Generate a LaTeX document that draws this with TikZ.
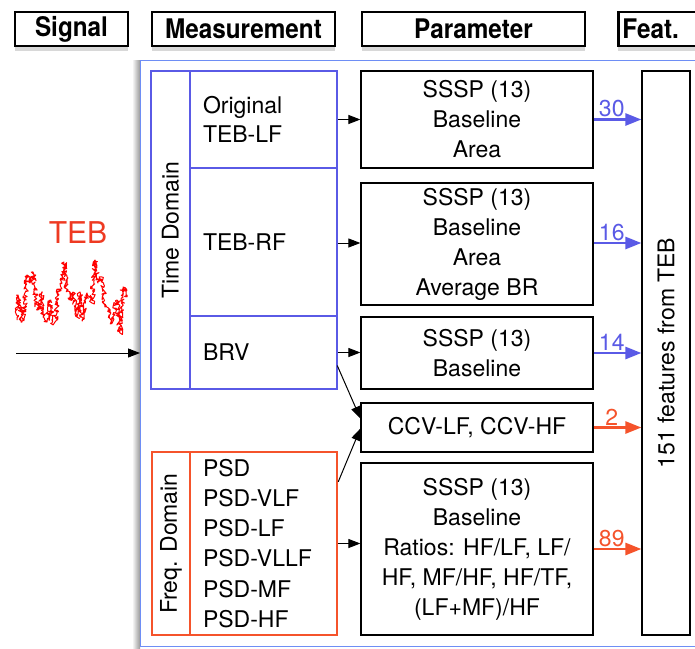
\documentclass[tikz,border=0pt]{standalone}
\usepackage{fontspec}
\setmainfont{TeX Gyre Heros}
\newfontfamily\headfont[FakeStretch=0.9]{TeX Gyre Heros}
\usetikzlibrary{arrows.meta,shadows,decorations.pathmorphing,calc}
\definecolor{tdblue}{HTML}{5A5AE6}
\definecolor{outerblue}{HTML}{6E8EF5}
\definecolor{fqorange}{HTML}{F5532B}
\definecolor{tebred}{HTML}{EE3A22}
\begin{document}
\begin{tikzpicture}[x=1pt,y=-1pt,
  head/.style={draw, line width=2.5pt, fill=white, minimum height=34pt, inner sep=0pt,
    font=\headfont\bfseries\fontsize{27}{30}\selectfont,
    drop shadow={shadow xshift=0pt, shadow yshift=-5pt, opacity=0.3}},
  pbox/.style={draw, line width=1.2pt, align=center, inner sep=0pt,
    font=\fontsize{23}{30}\selectfont},
  mcell/.style={draw=tdblue, line width=2.5pt, inner ysep=0pt, inner xsep=13pt,
    text width=121pt, align=left, font=\fontsize{23}{29}\selectfont},
  fcell/.style={mcell, draw=fqorange},
  strip/.style={line width=2.5pt, rotate=90, inner sep=0pt, font=\fontsize{23}{28}\selectfont},
  blk/.style={-{Triangle[length=12pt,width=9pt]}, line width=1pt},
  feat/.style={line width=2.6pt, -{Triangle[length=16pt,width=12pt]}},
  num/.style={font=\fontsize{23}{28}\selectfont, inner sep=1pt, above, pos=0.38}
]
\useasboundingbox (0,0) rectangle (695,648);
\fill[white] (0,0) rectangle (695,648);

% outer frame with left shadow
\shade[left color=white, right color=black!40] (132,60) rectangle (140,648);
\node[draw=outerblue, line width=1.3pt, fill=white, inner sep=0pt, minimum width=580pt,
  minimum height=586pt, anchor=north west] (outer) at (140,60) {};

% headers
\node[head, minimum width=113pt] (hsig) at (71.5,29) {Signal};
\node[head, minimum width=183pt] (hmeas) at (243.5,29) {Measurement};
\node[head, minimum width=223pt] (hpar) at (473.5,29) {Parameter};
\node[head, minimum width=92pt, text width=84pt, align=left, inner xsep=4pt, anchor=west] (hfeat) at (617,29) {Feat.};

% signal
\node[text=tebred, font=\fontsize{30}{34}\selectfont, inner sep=0pt] (teb) at (78,233) {TEB};
\pgfmathsetseed{11}
\draw[red, line width=1pt, line join=round, decorate, decoration={random steps, segment length=1pt, amplitude=2.6pt}]
  (17,320) -- (18,295) -- (22,322) -- (25,300) -- (27,275) -- (30,283) -- (33,272) -- (35,293)
  -- (38,310) -- (42,293) -- (43,317) -- (47,322) -- (50,300) -- (52,323) -- (55,322) -- (58,293)
  -- (62,283) -- (64,262) -- (67,290) -- (70,300) -- (73,292) -- (77,317) -- (80,292) -- (82,320)
  -- (87,293) -- (92,303) -- (95,260) -- (98,283) -- (102,277) -- (105,307) -- (108,310)
  -- (112,323) -- (117,300) -- (120,333) -- (123,287) -- (127,297);
\coordinate (sigstart) at (16,353);
\draw[blk] (sigstart) -- (sigstart -| outer.west);

% time domain
\node[strip, draw=tdblue, minimum width=318pt, minimum height=39pt] (td) at (170.5,230) {Time Domain};
\node[mcell, minimum height=97pt] (m1) at (263.5,119.5) {Original\\TEB-LF};
\node[mcell, minimum height=148pt] (m2) at (263.5,242) {TEB-RF};
\node[mcell, minimum height=73pt] (m3) at (263.5,352.5) {BRV};

% frequency domain
\node[strip, draw=fqorange, minimum width=183pt, minimum height=38pt] (fd) at (171,543.5) {Freq. Domain};
\node[fcell, minimum height=183pt, font=\fontsize{23}{30.2}\selectfont] (fq) at (263.5,543.5)
  {PSD\\PSD-VLF\\PSD-LF\\PSD-VLLF\\PSD-MF\\PSD-HF};

% parameter boxes
\node[pbox, minimum width=232pt, minimum height=97pt] (p1) at (477,119.5) {SSSP (13)\\Baseline\\Area};
\node[pbox, minimum width=232pt, minimum height=122pt] (p2) at (477,244) {SSSP (13)\\Baseline\\Area\\Average BR};
\node[pbox, minimum width=232pt, minimum height=72pt] (p3) at (477,353) {SSSP (13)\\Baseline};
\node[pbox, minimum width=232pt, minimum height=49pt] (p4) at (477,427.5) {CCV-LF, CCV-HF};
\node[pbox, minimum width=232pt, minimum height=172pt] (p5) at (477,549)
  {SSSP (13)\\Baseline\\Ratios: HF/LF, LF/\\HF, MF/HF, HF/TF,\\(LF+MF)/HF};

% features box
\node[pbox, minimum width=48pt, minimum height=564pt] (fb) at (666,353) {};
\node[rotate=90, font=\fontsize{23}{28}\selectfont, inner sep=0pt] (fbt) at (fb.center) {151 features from TEB};

% black arrows
\draw[blk] (m1.east) -- (m1.east -| p1.west);
\draw[blk] ($(m2.east)+(0,1)$) -- ($(m2.east -| p2.west)+(0,1)$);
\draw[blk] (m3.east) -- (m3.east -| p3.west);
\draw[blk] (fq.east) -- (fq.east -| p5.west);
\draw[blk] ($(m3.east)+(-1,13)$) -- ($(p4.west)+(0,-9)$);
\draw[blk] ($(fq.north east)+(0,31)$) -- ($(p4.west)+(0,1)$);

% coloured feature arrows
\draw[feat, tdblue] (p1.east) -- node[num] {30} (p1.east -| fb.west);
\draw[feat, tdblue] ($(p2.east)+(0,-1)$) -- node[num] {16} ($(p2.east -| fb.west)+(0,-1)$);
\draw[feat, tdblue] (p3.east) -- node[num] {14} (p3.east -| fb.west);
\draw[feat, fqorange] (p4.east) -- node[num] {2} (p4.east -| fb.west);
\draw[feat, fqorange] (p5.east) -- node[num] {89} (p5.east -| fb.west);
\end{tikzpicture}
\end{document}
